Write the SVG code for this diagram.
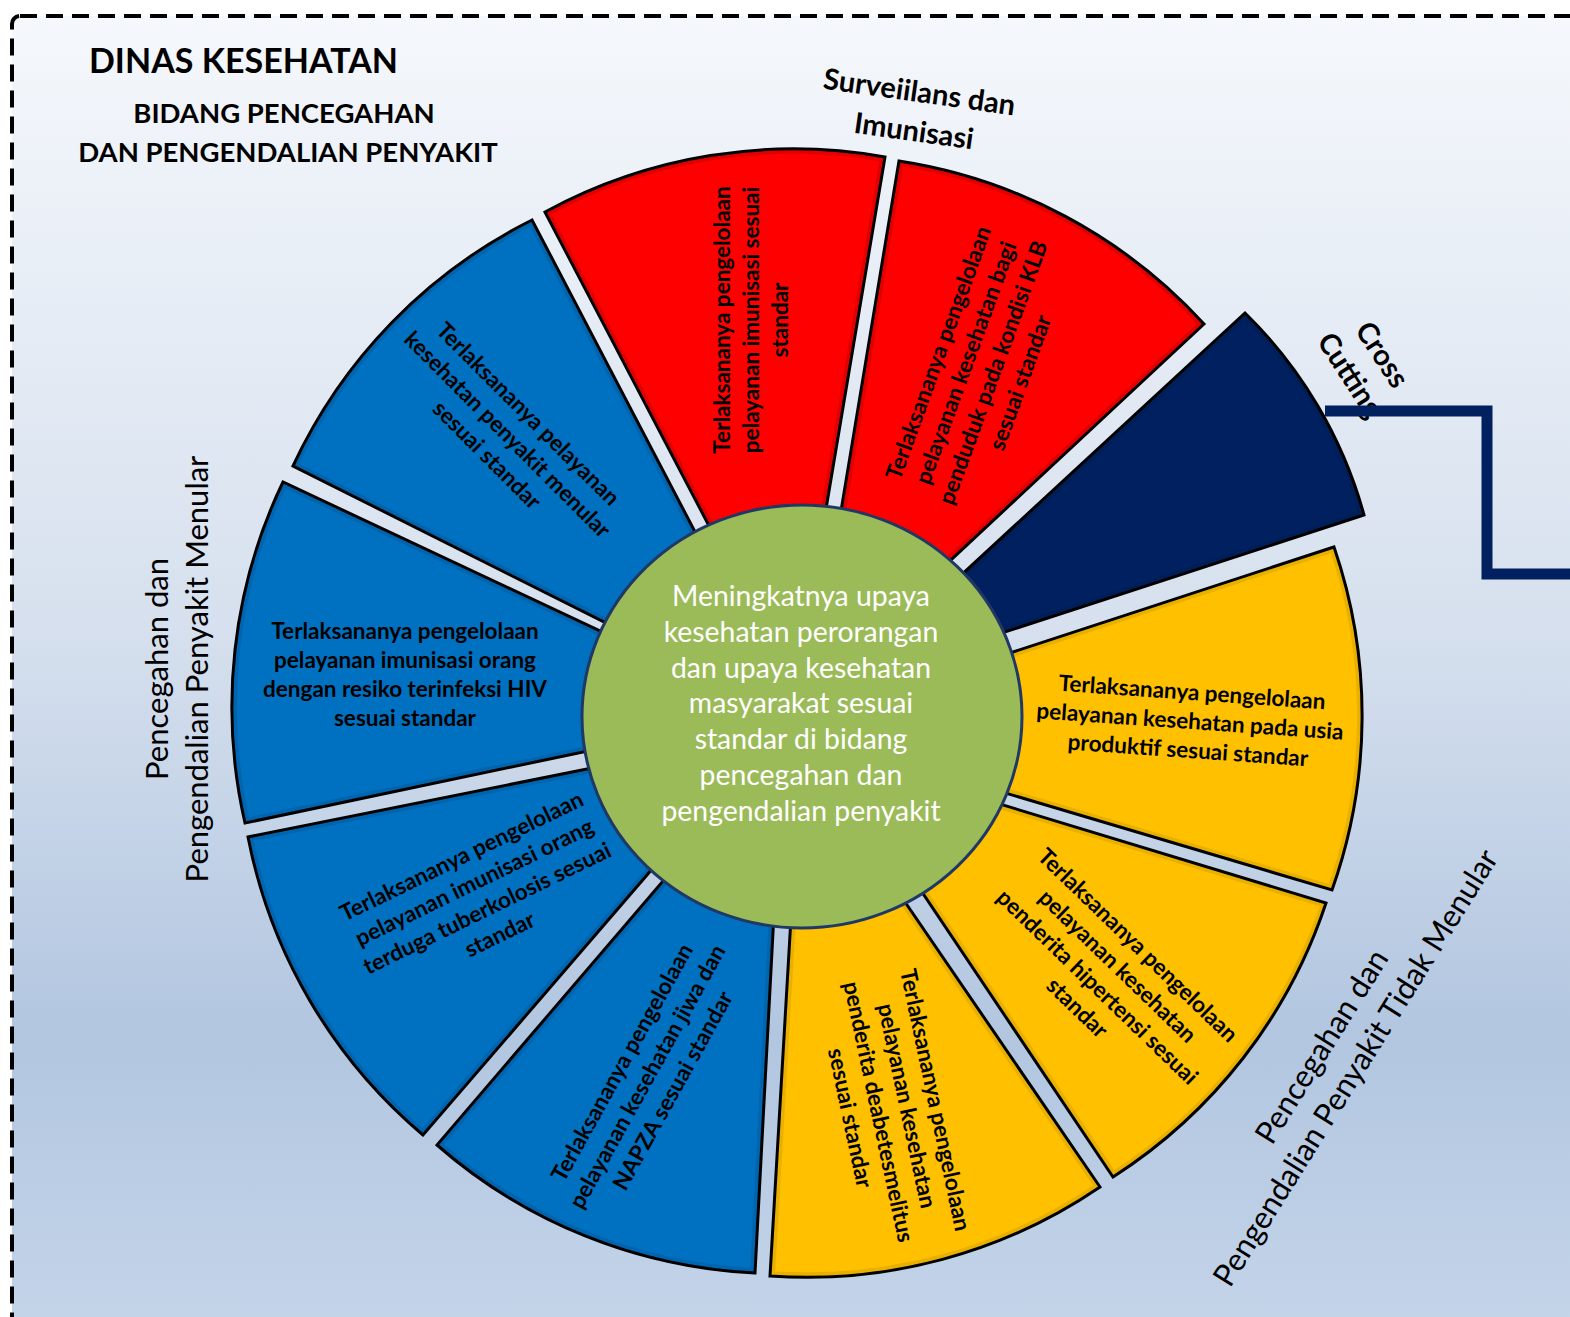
<svg xmlns="http://www.w3.org/2000/svg" xmlns:xlink="http://www.w3.org/1999/xlink" width="1570" height="1317" viewBox="0 0 1570 1317">
<defs>
<linearGradient id="bg" x1="0" y1="0" x2="0" y2="1">
<stop offset="0" stop-color="#F5F8FC"/>
<stop offset="0.45" stop-color="#D6E0EE"/>
<stop offset="0.75" stop-color="#B2C6E0"/>
<stop offset="1" stop-color="#C7D7EB"/>
</linearGradient>
<style>
.wt{font-family:Lato,'Open Sans',sans-serif;font-weight:700;font-size:22.5px;fill:#000;text-anchor:middle}
.ct{font-family:Lato,'Open Sans',sans-serif;font-weight:400;font-size:28.4px;fill:#fff;text-anchor:middle}
.ttl{font-family:Lato,'Open Sans',sans-serif;font-weight:700;fill:#000;text-anchor:middle}
.lb{font-family:Lato,'Open Sans',sans-serif;font-weight:400;font-size:31px;fill:#000;text-anchor:middle}
.lbb{font-family:Lato,'Open Sans',sans-serif;font-weight:700;font-size:29px;fill:#000;text-anchor:middle}
.ol{fill:none;stroke:#000;stroke-width:3;stroke-linejoin:miter}
.red{fill:#FF0000;stroke:#E00000;stroke-width:10}
.blue{fill:#0070C0;stroke:#0065AE;stroke-width:10}
.yel{fill:#FFC000;stroke:#E9B000;stroke-width:10}
.navy{fill:#002060;stroke:#001E58;stroke-width:10}
</style>
<path id="p1" d="M755.6,615 L545,212 A520,520 0 0 1 885,157 L809.6,606.8 Z"/>
<path id="p2" d="M824.9,608.2 L899,161 A520,520 0 0 1 1204,324 L877.7,628.2 Z"/>
<path id="p3" d="M887.5,643.2 L1245,313 A450,450 0 0 1 1364,515 L897.3,667.1 Z"/>
<path id="p4" d="M916.7,683.5 L1334,547 A520,520 0 0 1 1332,890 L916,766.5 Z"/>
<path id="p5" d="M906.1,775.6 L1326,903 A520,520 0 0 1 1113,1177 L864.7,806.5 Z"/>
<path id="p6" d="M846.5,816.5 L1100,1187 A520,520 0 0 1 770,1276 L796,832.7 Z"/>
<path id="p7" d="M778.4,829.7 L755,1273 A520,520 0 0 1 437,1145 L724.3,809.6 Z"/>
<path id="p8" d="M714.2,797 L423,1135 A520,520 0 0 1 248,837 L695.2,747.3 Z"/>
<path id="p9" d="M684.4,730.7 L245,823 A520,520 0 0 1 283,482 L692.5,674.4 Z"/>
<path id="p10" d="M692.1,666.2 L293,466 A520,520 0 0 1 532,220 L741.3,620.4 Z"/>
<clipPath id="c1"><use xlink:href="#p1"/></clipPath>
<clipPath id="c2"><use xlink:href="#p2"/></clipPath>
<clipPath id="c3"><use xlink:href="#p3"/></clipPath>
<clipPath id="c4"><use xlink:href="#p4"/></clipPath>
<clipPath id="c5"><use xlink:href="#p5"/></clipPath>
<clipPath id="c6"><use xlink:href="#p6"/></clipPath>
<clipPath id="c7"><use xlink:href="#p7"/></clipPath>
<clipPath id="c8"><use xlink:href="#p8"/></clipPath>
<clipPath id="c9"><use xlink:href="#p9"/></clipPath>
<clipPath id="c10"><use xlink:href="#p10"/></clipPath>
</defs>

<rect id="frame" x="12" y="16" width="1620" height="1360" rx="8" fill="url(#bg)" stroke="#000" stroke-width="4" stroke-dasharray="17 9"/>

<g id="title">
<text class="ttl" x="243.5" y="73" font-size="34">DINAS KESEHATAN</text>
<text class="ttl" x="284" y="123" font-size="27.5">BIDANG PENCEGAHAN</text>
<text class="ttl" x="288" y="162" font-size="27.5">DAN PENGENDALIAN PENYAKIT</text>
</g>

<g id="seg-imunisasi">
<use xlink:href="#p1" class="red" clip-path="url(#c1)"/><use xlink:href="#p1" class="ol"/>
<g transform="translate(752,320) rotate(-90)" class="wt">
<text x="0" y="-22">Terlaksananya pengelolaan</text>
<text x="0" y="7">pelayanan imunisasi sesuai</text>
<text x="0" y="36">standar</text>
</g>
</g>

<g id="seg-klb">
<use xlink:href="#p2" class="red" clip-path="url(#c2)"/><use xlink:href="#p2" class="ol"/>
<g transform="translate(980,368) rotate(-70)" class="wt">
<text x="0" y="-36.5">Terlaksananya pengelolaan</text>
<text x="0" y="-7.5">pelayanan kesehatan bagi</text>
<text x="0" y="21.5">penduduk pada kondisi KLB</text>
<text x="0" y="50.5">sesuai standar</text>
</g>
</g>

<g id="seg-crosscutting">
<use xlink:href="#p3" class="navy" clip-path="url(#c3)"/><use xlink:href="#p3" class="ol"/>
</g>

<g id="seg-usia-produktif">
<use xlink:href="#p4" class="yel" clip-path="url(#c4)"/><use xlink:href="#p4" class="ol"/>
<g transform="translate(1190,722) rotate(4)" class="wt">
<text x="0" y="-22">Terlaksananya pengelolaan</text>
<text x="0" y="7">pelayanan kesehatan pada usia</text>
<text x="0" y="36">produktif sesuai standar</text>
</g>
</g>

<g id="seg-hipertensi">
<use xlink:href="#p5" class="yel" clip-path="url(#c5)"/><use xlink:href="#p5" class="ol"/>
<g transform="translate(1107,977) rotate(44)" class="wt">
<text x="0" y="-36.5">Terlaksananya pengelolaan</text>
<text x="0" y="-7.5">pelayanan kesehatan</text>
<text x="0" y="21.5">penderita hipertensi sesuai</text>
<text x="0" y="50.5">standar</text>
</g>
</g>

<g id="seg-diabetes">
<use xlink:href="#p6" class="yel" clip-path="url(#c6)"/><use xlink:href="#p6" class="ol"/>
<g transform="translate(892,1109) rotate(78)" class="wt">
<text x="0" y="-36.5">Terlaksananya pengelolaan</text>
<text x="0" y="-7.5">pelayanan kesehatan</text>
<text x="0" y="21.5">penderita deabetesmelitus</text>
<text x="0" y="50.5">sesuai standar</text>
</g>
</g>

<g id="seg-napza">
<use xlink:href="#p7" class="blue" clip-path="url(#c7)"/><use xlink:href="#p7" class="ol"/>
<g transform="translate(648,1077) rotate(-61)" class="wt">
<text x="0" y="-22">Terlaksananya pengelolaan</text>
<text x="0" y="7">pelayanan kesehatan jiwa dan</text>
<text x="0" y="36">NAPZA sesuai standar</text>
</g>
</g>

<g id="seg-tuberkolosis">
<use xlink:href="#p8" class="blue" clip-path="url(#c8)"/><use xlink:href="#p8" class="ol"/>
<g transform="translate(481,896) rotate(-26)" class="wt">
<text x="0" y="-36.5">Terlaksananya pengelolaan</text>
<text x="0" y="-7.5">pelayanan imunisasi orang</text>
<text x="0" y="21.5">terduga tuberkolosis sesuai</text>
<text x="0" y="50.5">standar</text>
</g>
</g>

<g id="seg-hiv">
<use xlink:href="#p9" class="blue" clip-path="url(#c9)"/><use xlink:href="#p9" class="ol"/>
<g transform="translate(405,675)" class="wt">
<text x="0" y="-36.5">Terlaksananya pengelolaan</text>
<text x="0" y="-7.5">pelayanan imunisasi orang</text>
<text x="0" y="21.5">dengan resiko terinfeksi HIV</text>
<text x="0" y="50.5">sesuai standar</text>
</g>
</g>

<g id="seg-menular">
<use xlink:href="#p10" class="blue" clip-path="url(#c10)"/><use xlink:href="#p10" class="ol"/>
<g transform="translate(507,435) rotate(45)" class="wt">
<text x="0" y="-22">Terlaksananya pelayanan</text>
<text x="0" y="7">kesehatan penyakit menular</text>
<text x="0" y="36">sesuai standar</text>
</g>
</g>

<g id="center">
<ellipse cx="802" cy="716.5" rx="220" ry="211.5" fill="#9BBB59" stroke="#1F3864" stroke-width="3"/>
<g class="ct">
<text x="801" y="606">Meningkatnya upaya</text>
<text x="801" y="642">kesehatan perorangan</text>
<text x="801" y="678">dan upaya kesehatan</text>
<text x="801" y="713">masyarakat sesuai</text>
<text x="801" y="749">standar di bidang</text>
<text x="801" y="785">pencegahan dan</text>
<text x="801" y="821">pengendalian penyakit</text>
</g>
</g>

<g id="label-surveilans" transform="translate(918,102) rotate(8)" class="lbb">
<text x="0" y="0">Surveiilans dan</text>
<text x="0" y="39.4">Imunisasi</text>
</g>

<g id="label-crosscutting" transform="translate(1365.5,365.5) rotate(57)" class="lbb">
<text x="0" y="-10">Cross</text>
<text x="0" y="28">Cutting</text>
</g>

<g id="label-ptm" transform="translate(1340,1058) rotate(-58)" class="lb">
<text x="0" y="-11">Pencegahan dan</text>
<text x="0" y="29">Pengendalian Penyakit Tidak Menular</text>
</g>

<g id="label-pm" transform="translate(181,669) rotate(-90)" class="lb">
<text x="0" y="-13">Pencegahan dan</text>
<text x="0" y="27">Pengendalian Penyakit Menular</text>
</g>

<g id="connectors">
<polyline points="1325,411 1487,411 1487,574 1580,574" fill="none" stroke="#002060" stroke-width="11" stroke-linejoin="miter"/>
</g>
</svg>
